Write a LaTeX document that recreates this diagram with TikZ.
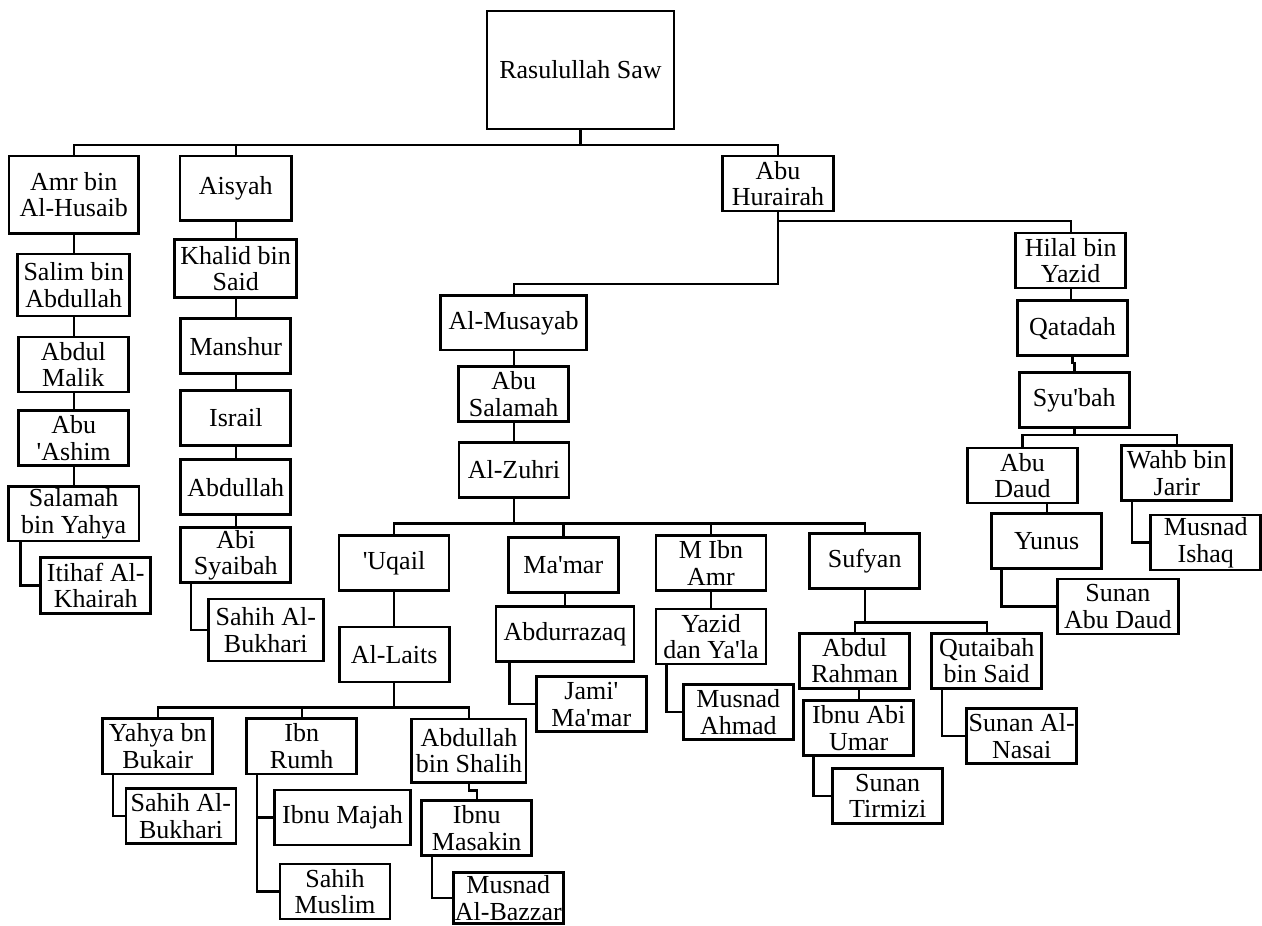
\documentclass[tikz,border=0pt]{standalone}
\usepackage{fontspec}
\setmainfont{Liberation Serif}
\newcommand\myq{\textquotesingle}
\begin{document}
\begin{tikzpicture}[x=0.75pt,y=-0.75pt,
  box/.style={draw, line width=2pt, inner sep=0pt, align=center,
    minimum width=82.5pt, minimum height=41.25pt,
    font=\fontsize{19.5}{20}\selectfont},
  sz/.style 2 args={minimum width=#1*0.75pt, minimum height=#2*0.75pt},
  wire/.style={line width=1.8pt}]
\useasboundingbox (0,0) rectangle (1262,925);

% nodes
\node[box, sz={187}{118}] (rasul) at (580.5,70) {Rasulullah Saw};
\node[box, sz={129.3}{77.3}] (amr) at (73.7,194.7) {Amr bin\\Al-Husaib};
\node[box, sz={111.7}{64.7}] (aisyah) at (235.8,188.3) {Aisyah};
\node[box, sz={110.6}{55}] (abuh) at (778,183.5) {Abu\\Hurairah};
\node[box, sz={112}{62}] (salim) at (73.7,285) {Salim bin\\Abdullah};
\node[box] (amalik) at (73.3,364.5) {Abdul\\Malik};
\node[box] (ashim) at (73.7,438.3) {Abu\\\myq Ashim};
\node[box, sz={130.7}{54.3}] (salamah) at (73.7,513.8) {Salamah\\bin Yahya};
\node[box, sz={110}{56}] (itihaf) at (95.7,585.3) {Itihaf Al-\\Khairah};
\node[box, sz={122}{58.4}] (khalid) at (235.7,268.5) {Khalid bin\\Said};
\node[box] (manshur) at (235.8,346.2) {Manshur};
\node[box] (israil) at (235.8,418) {Israil};
\node[box] (abdullah) at (235.8,487.2) {Abdullah};
\node[box] (abisy) at (235.8,555.2) {Abi\\Syaibah};
\node[box, sz={115}{62}] (bukhari1) at (265.8,630) {Sahih Al-\\Bukhari};
\node[box, sz={146}{54.3}] (musayab) at (513.7,322.8) {Al-Musayab};
\node[box] (abusal) at (513.7,394.3) {Abu\\Salamah};
\node[box] (zuhri) at (514,469.8) {Al-Zuhri};
\node[box] (uqail) at (394,563.2) {\myq Uqail};
\node[box] (mamar) at (563.3,564.8) {Ma\myq mar};
\node[box] (mibn) at (711,563.2) {M Ibn\\Amr};
\node[box] (sufyan) at (864.7,561.2) {Sufyan};
\node[box] (laits) at (394.2,654.5) {Al-Laits};
\node[box, sz={110}{55.7}] (yahya) at (157.7,746.2) {Yahya bn\\Bukair};
\node[box, sz={110}{55.7}] (ibnrumh) at (301.7,746.2) {Ibn\\Rumh};
\node[box, sz={114.3}{63.3}] (abdshalih) at (468.9,750.7) {Abdullah\\bin Shalih};
\node[box] (bukhari2) at (180.9,815.8) {Sahih Al-\\Bukhari};
\node[box, sz={136.4}{55}] (majah) at (342.5,817.5) {Ibnu Majah};
\node[box] (muslim) at (335,891.5) {Sahih\\Muslim};
\node[box] (masakin) at (476.7,828.3) {Ibnu\\Masakin};
\node[box, sz={110}{51}] (bazzar) at (508.3,897.8) {Musnad\\Al-Bazzar};
\node[box, sz={138}{55}] (abdurrazaq) at (565,634.2) {Abdurrazaq};
\node[box] (jami) at (591.3,704.2) {Jami\myq\\Ma\myq mar};
\node[box] (yazid) at (711,636.5) {Yazid\\dan Ya\myq la};
\node[box] (ahmad) at (738.3,711.8) {Musnad\\Ahmad};
\node[box] (arahman) at (854.7,660.7) {Abdul\\Rahman};
\node[box] (qutaibah) at (986.7,660.7) {Qutaibah\\bin Said};
\node[box] (ibnuabi) at (858.7,728) {Ibnu Abi\\Umar};
\node[box] (tirmizi) at (887.7,795.8) {Sunan\\Tirmizi};
\node[box] (nasai) at (1021.7,736.2) {Sunan Al-\\Nasai};
\node[box] (hilal) at (1070.7,260.5) {Hilal bin\\Yazid};
\node[box] (qatadah) at (1072.5,328.2) {Qatadah};
\node[box] (syubah) at (1074.3,399.8) {Syu\myq bah};
\node[box] (abudaud) at (1022.5,475.5) {Abu\\Daud};
\node[box] (wahb) at (1176.8,473.3) {Wahb bin\\Jarir};
\node[box] (yunus) at (1046.7,540.8) {Yunus};
\node[box, sz={121}{55}] (sunanad) at (1117.8,606.5) {Sunan\\Abu Daud};
\node[box] (ishaq) at (1205.8,542.5) {Musnad\\Ishaq};

% bus coordinates
\coordinate (b1) at (580.5,145);
\coordinate (h1) at (778,283.7);
\coordinate (h2) at (778,221);
\coordinate (z1) at (513.7,523.3);
\coordinate (s1) at (864.7,622.3);
\coordinate (l1) at (394.2,707.3);
\coordinate (y1) at (1074.3,435);

\begin{scope}[wire]
% top level
\draw (rasul.south) -- (b1);
\draw (amr.north) |- (b1) -| (abuh.north);
\draw (aisyah.north) -- (aisyah.north |- b1);
% Amr chain
\draw (amr.south) -- (amr.south |- salim.north);
\draw (salim.south) -- (salim.south |- amalik.north);
\draw (amalik.south -| ashim.north) -- (ashim.north);
\draw (ashim.south) -- (ashim.south |- salamah.north);
\draw ([xshift=10pt]salamah.south west) |- (itihaf.west);
% Aisyah chain
\draw (aisyah.south -| khalid.north) -- (khalid.north);
\draw (khalid.south -| manshur.north) -- (manshur.north);
\draw (manshur.south) -- (israil.north);
\draw (israil.south) -- (abdullah.north);
\draw (abdullah.south) -- (abisy.north);
\draw ([xshift=8.5pt]abisy.south west) |- (bukhari1.west);
% Abu Hurairah
\draw (abuh.south) -- (h1) -| (musayab.north);
\draw (h2) -| (hilal.north);
\draw (musayab.south) -- (abusal.north);
\draw (abusal.south) -- (abusal.south |- zuhri.north);
\draw (zuhri.south -| z1) -- (z1);
\draw (uqail.north) |- (z1) -| (sufyan.north);
\draw (mamar.north) -- (mamar.north |- z1);
\draw (mibn.north) -- (mibn.north |- z1);
% Uqail
\draw (uqail.south) -- (uqail.south |- laits.north);
\draw (laits.south) -- (l1);
\draw (yahya.north) |- (l1) -| (abdshalih.north);
\draw (ibnrumh.north) -- (ibnrumh.north |- l1);
\draw ([xshift=8.5pt]yahya.south west) |- (bukhari2.west);
\draw ([xshift=8.7pt]ibnrumh.south west) |- (muslim.west);
\draw ([xshift=8.7pt]ibnrumh.south west |- majah.west) -- (majah.west);
\draw (abdshalih.south) -- ++(0,6.7) -| (masakin.north);
\draw ([xshift=8.7pt]masakin.south west) |- (bazzar.west);
% Ma'mar
\draw (abdurrazaq.north) -- (abdurrazaq.north |- mamar.south);
\draw ([xshift=11pt]abdurrazaq.south west) |- (jami.west);
% M Ibn Amr
\draw (mibn.south) -- (yazid.north);
\draw ([xshift=8.8pt]yazid.south west) |- (ahmad.west);
% Sufyan
\draw (sufyan.south) -- (s1);
\draw (arahman.north) |- (s1) -| (qutaibah.north);
\draw (ibnuabi.north) -- (ibnuabi.north |- arahman.south);
\draw ([xshift=8.3pt]ibnuabi.south west) |- (tirmizi.west);
\draw ([xshift=8.5pt]qutaibah.south west) |- (nasai.west);
% Hilal chain
\draw (hilal.south) -- (hilal.south |- qatadah.north);
\draw (qatadah.south) -- ++(0,6) -| (syubah.north);
\draw (syubah.south) -- (y1);
\draw (abudaud.north) |- (y1) -| (wahb.north);
\draw (yunus.north) -- (yunus.north |- abudaud.south);
\draw ([xshift=8.3pt]yunus.south west) |- (sunanad.west);
\draw ([xshift=8.7pt]wahb.south west) |- (ishaq.west);
\end{scope}
\end{tikzpicture}
\end{document}
